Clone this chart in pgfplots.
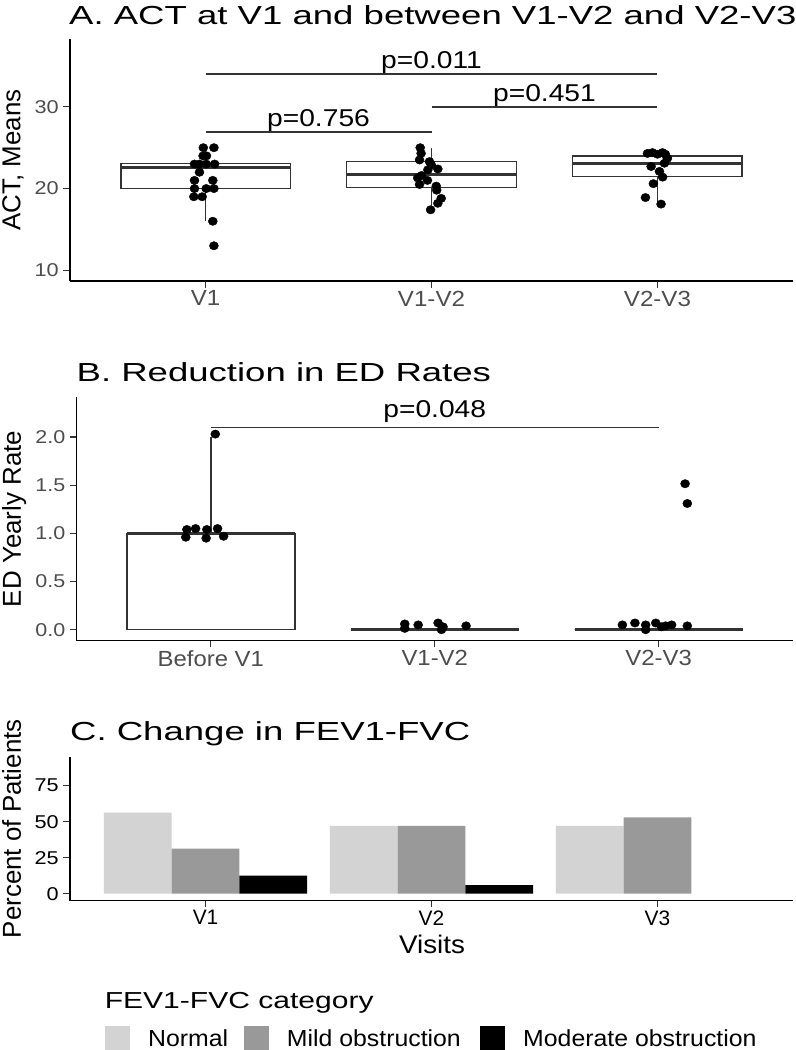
\documentclass[border=0pt]{standalone}
\usepackage{pgfplots}
\pgfplotsset{compat=1.18}
\usepgfplotslibrary{statistics}
\usepackage{graphicx}
\usepackage{fontspec}
\setmainfont{Liberation Sans}

\definecolor{gray20}{HTML}{333333}
\definecolor{gray30}{HTML}{4D4D4D}
\definecolor{normalfill}{HTML}{D3D3D3}
\definecolor{mildfill}{HTML}{999999}

\newcommand{\fs}[1]{\fontsize{#1}{#1}\selectfont}
\newcommand{\sx}[2]{\scalebox{#1}[1]{#2}}

\pgfplotsset{
  gg/.style={
    scale only axis, clip=false,
    axis x line*=bottom, axis y line*=left,
    axis line style={line width=1.2bp, black},
    every tick/.style={line width=1.2bp, gray20},
    tick align=outside, major tick length=6.5bp,
    xmin=0.4, xmax=3.6, xtick={1,2,3},
    yticklabel style={font=\fs{18.6}, text=gray30, inner sep=0pt, xshift=-4.5bp},
    xticklabel style={font=\fs{22}, text=gray30, inner sep=0pt, yshift=-3bp},
    boxplot/draw direction=y,
  },
  pts/.style={only marks, mark=*, mark size=4.2bp, black, mark options={xscale=1.08}},
  bx/.style={draw=gray20, line width=1.4bp, fill=white,
    boxplot/every median/.style={line width=2.6bp}},
  sig/.style={gray20, line width=1.5bp},
}
\tikzset{ptext/.style={anchor=base, inner sep=0pt, font=\fs{24.4}}}

\begin{document}
\begin{tikzpicture}
\useasboundingbox (0,0) rectangle (796bp,-1050bp);

% ---------- A: ACT ----------
\begin{axis}[gg, at={(70bp,-281bp)}, anchor=south west,
  width=723bp, height=242bp,
  ymin=8.69, ymax=38.3, ytick={10,20,30},
  yticklabels={\sx{1.17}{10},\sx{1.17}{20},\sx{1.17}{30}},
  xticklabels={\sx{1.1}{V1},\sx{1.1}{V1-V2},\sx{1.1}{V2-V3}}]
\addplot[bx, boxplot prepared={draw direction=y, draw position=1, lower whisker=16, lower quartile=20,
  median=22.6, upper quartile=23.05, upper whisker=25, box extend=0.75, whisker extend=0}] coordinates {};
\addplot[bx, boxplot prepared={draw direction=y, draw position=2, lower whisker=17.4, lower quartile=20.1,
  median=21.75, upper quartile=23.3, upper whisker=25, box extend=0.75, whisker extend=0}] coordinates {};
\addplot[bx, boxplot prepared={draw direction=y, draw position=3, lower whisker=18.4, lower quartile=21.5,
  median=23.1, upper quartile=24.0, upper whisker=24.3, box extend=0.75, whisker extend=0}] coordinates {};
% V1
\addplot[pts] coordinates {
  (0.99,25) (1.037,25) (0.989,24) (1.004,24)
  (0.951,23) (0.973,23) (1.003,23) (1.04,23)
  (0.973,22) (0.951,21) (1.032,21)
  (0.951,20) (1.003,20) (1.037,20)
  (0.948,19) (0.985,19) (1.032,16) (1.037,13)};
% V1-V2
\addplot[pts] coordinates {
  (1.95,25.0) (1.954,24.3) (1.947,23.5) (1.991,23.3) (1.999,22.9)
  (2.028,22.4) (1.984,22.3) (1.956,21.6) (1.982,21.0) (1.939,21.3)
  (1.947,20.5) (2.021,20.3) (2.023,19.8) (2.043,18.8) (2.028,18.2) (1.996,17.4)};
% V2-V3
\addplot[pts] coordinates {
  (2.956,24.3) (2.978,24.4) (3.0,24.2) (3.022,24.4) (3.035,24.2) (3.044,23.7)
  (3.031,23.1) (2.972,22.7) (3.009,22.1) (3.023,21.4) (2.982,20.6)
  (2.947,18.9) (3.016,18.1)};
\addplot[sig] coordinates {(1,26.9) (2,26.9)};
\addplot[sig] coordinates {(2,30) (3,30)};
\addplot[sig] coordinates {(1,34) (3,34)};
\node[ptext, yshift=6bp] at (axis cs:1.5,26.9) {\sx{1.16}{p=0.756}};
\node[ptext, yshift=5.5bp] at (axis cs:2.5,30) {\sx{1.16}{p=0.451}};
\node[ptext, yshift=5.5bp] at (axis cs:2,34) {\sx{1.16}{p=0.011}};
\end{axis}

% ---------- B: ED rates ----------
\begin{axis}[gg, at={(76.5bp,-640.7bp)}, anchor=south west,
  width=716.5bp, height=243.7bp,
  ymin=-0.114, ymax=2.415, ytick={0,0.5,1,1.5,2},
  yticklabels={\sx{1.16}{0.0},\sx{1.16}{0.5},\sx{1.16}{1.0},\sx{1.16}{1.5},\sx{1.16}{2.0}},
  xticklabels={\sx{1.09}{Before V1},\sx{1.09}{V1-V2},\sx{1.09}{V2-V3}}]
\addplot[bx, boxplot prepared={draw direction=y, draw position=1, lower whisker=0, lower quartile=0,
  median=1.0, upper quartile=1.0, upper whisker=2.0, box extend=0.75, whisker extend=0}] coordinates {};
\addplot[bx, boxplot prepared={draw direction=y, draw position=2, lower whisker=0, lower quartile=0,
  median=0, upper quartile=0, upper whisker=0, box extend=0.75, whisker extend=0}] coordinates {};
\addplot[bx, boxplot prepared={draw direction=y, draw position=3, lower whisker=0, lower quartile=0,
  median=0, upper quartile=0, upper whisker=0, box extend=0.75, whisker extend=0}] coordinates {};
\addplot[pts] coordinates {
  (0.893,1.04) (0.932,1.05) (0.982,1.04) (1.03,1.05)
  (0.888,0.96) (0.979,0.95) (1.057,0.97) (1.02,2.03)};
\addplot[pts] coordinates {
  (1.866,0.06) (1.866,0.014) (1.926,0.05) (2.015,0.07) (2.037,0.03) (2.03,0.0) (2.14,0.04)};
\addplot[pts] coordinates {
  (2.838,0.05) (2.894,0.07) (2.942,0.05) (2.942,0.0) (2.987,0.07) (3.013,0.03)
  (3.031,0.04) (3.058,0.05) (3.128,0.04) (3.118,1.515) (3.128,1.31)};
\addplot[sig] coordinates {(1,2.1) (3,2.1)};
\node[ptext, yshift=9.4bp] at (axis cs:2,2.1) {\sx{1.16}{p=0.048}};
\end{axis}

% ---------- C: FEV1-FVC ----------
\begin{axis}[gg, at={(70bp,-900.7bp)}, anchor=south west,
  width=723bp, height=144bp,
  ymin=-4.86, ymax=95.1, ytick={0,25,50,75},
  yticklabel style={text=black},
  xticklabel style={text=black, font=\fs{21}},
  yticklabels={\sx{1.17}{0},\sx{1.17}{25},\sx{1.17}{50},\sx{1.17}{75}},
  xticklabels={V1,V2,V3}]
\addplot[ybar, bar width=0.3, bar shift=-0.3, fill=normalfill, draw=none]
  coordinates {(1,56.25) (2,47.06) (3,47.06)};
\addplot[ybar, bar width=0.3, bar shift=0, fill=mildfill, draw=none]
  coordinates {(1,31.25) (2,47.06) (3,52.94)};
% V3 has no moderate obstruction (0 %)
\addplot[ybar, bar width=0.3, bar shift=0.3, fill=black, draw=none]
  coordinates {(1,12.5) (2,5.88)};
\end{axis}

% ---------- titles and labels ----------
\node[anchor=base west, inner sep=0pt, font=\fs{26.2}] at (69bp,-24bp)
  {\sx{1.4}{A. ACT at V1 and between V1-V2 and V2-V3}};
\node[anchor=base west, inner sep=0pt, font=\fs{26.2}] at (76.5bp,-381.7bp)
  {\sx{1.4}{B. Reduction in ED Rates}};
\node[anchor=base west, inner sep=0pt, font=\fs{26.2}] at (70bp,-740.7bp)
  {\sx{1.4}{C. Change in FEV1-FVC}};

\node[rotate=90, anchor=north, inner sep=0pt, font=\fs{26}] at (2bp,-160bp) {ACT, Means};
\node[rotate=90, anchor=north, inner sep=0pt, font=\fs{26}] at (2bp,-519bp) {ED Yearly Rate};
\node[rotate=90, anchor=north, inner sep=0pt, font=\fs{26}] at (2bp,-828.7bp) {Percent of Patients};
\node[anchor=base, inner sep=0pt, font=\fs{25.6}] at (432bp,-953.3bp) {\sx{1.09}{Visits}};

% ---------- legend ----------
\node[anchor=base west, inner sep=0pt, font=\fs{23.2}] at (104.6bp,-1008.3bp)
  {\sx{1.3}{FEV1-FVC category}};
\fill[normalfill] (104.6bp,-1026bp) rectangle (130.1bp,-1051.5bp);
\fill[mildfill] (243.9bp,-1026bp) rectangle (269.4bp,-1051.5bp);
\fill[black] (479.6bp,-1026bp) rectangle (505.1bp,-1051.5bp);
\node[anchor=base west, inner sep=0pt, font=\fs{23.3}] at (148bp,-1046.7bp) {\sx{1.07}{Normal}};
\node[anchor=base west, inner sep=0pt, font=\fs{23.3}] at (286.7bp,-1046.7bp) {\sx{1.07}{Mild obstruction}};
\node[anchor=base west, inner sep=0pt, font=\fs{23.3}] at (523bp,-1046.7bp) {\sx{1.07}{Moderate obstruction}};
\end{tikzpicture}
\end{document}
